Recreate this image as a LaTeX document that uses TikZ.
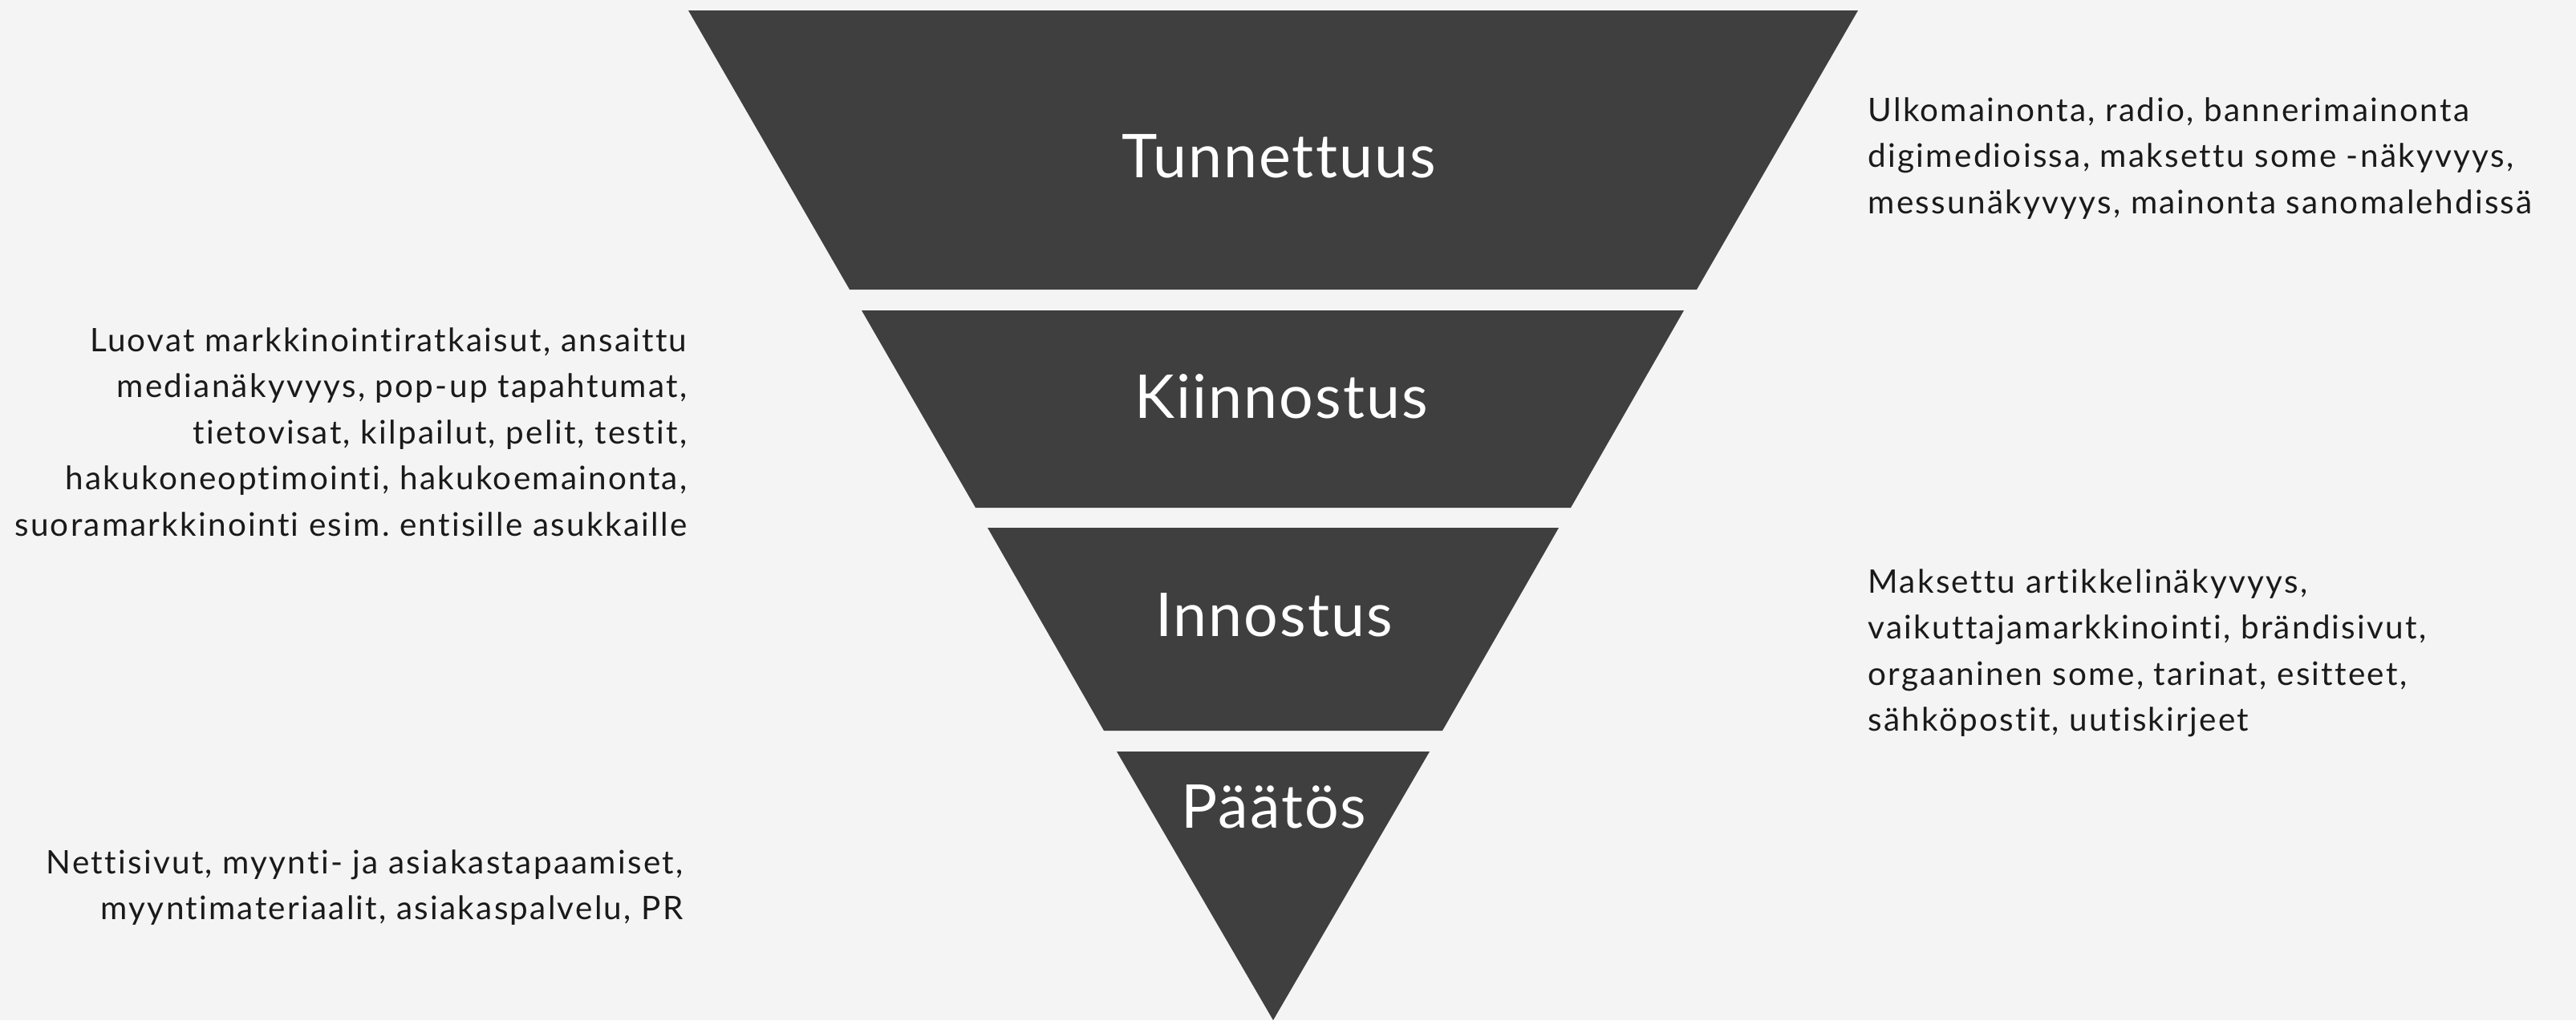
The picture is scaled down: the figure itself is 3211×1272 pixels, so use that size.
\documentclass[tikz,border=0pt]{standalone}
\usepackage{fontspec}
\setmainfont{Lato}
\newfontfamily\bodyfont[LetterSpace=5.6, Ligatures=NoCommon]{Lato}
\newfontfamily\titlefont[LetterSpace=2.8, Ligatures=NoCommon]{Lato}
\definecolor{bgc}{HTML}{F4F4F4}
\definecolor{funnel}{HTML}{3F3F3F}
\definecolor{txt}{HTML}{1A1A1A}
\tikzset{
  segment/.style={fill=funnel, draw=none},
  stagelabel/.style={anchor=base, text=white, inner sep=0pt, font=\titlefont\fontsize{21.4}{25}\selectfont},
  sidetext/.style={inner sep=0pt, text=txt, font=\bodyfont\fontsize{11.5}{16.36}\selectfont\frenchspacing}
}
\begin{document}
\begin{tikzpicture}[x=0.01cm, y=-0.01cm]
\fill[bgc] (0,0) rectangle (3211,1272);
\useasboundingbox (0,0) rectangle (3211,1272);
% funnel segments
\fill[segment] (858,13) -- (2316,13) -- (2115,361) -- (1059,361) -- cycle;
\fill[segment] (1074,387) -- (2099,387) -- (1958,633) -- (1216,633) -- cycle;
\fill[segment] (1231,658) -- (1943,658) -- (1798,911) -- (1376,911) -- cycle;
\fill[segment] (1392,937) -- (1782,937) -- (1587,1272) -- cycle;
% stage labels
\node[stagelabel] (tunn) at (1594,221) {Tunnettuus};
\node[stagelabel] (kiin) at (1597,521) {Kiinnostus};
\node[stagelabel] (inno) at (1588,793) {Innostus};
\node[stagelabel] (paat) at (1588,1032) {Päätös};
% side texts
\node[sidetext, anchor=base west] (t1) at (2328,151) {\begin{tabular}[t]{@{}l@{}}Ulkomainonta, radio, bannerimainonta\\digimedioissa, maksettu some -näkyvyys,\\messunäkyvyys, mainonta sanomalehdissä\end{tabular}};
\node[sidetext, anchor=base east] (t2) at (857,438) {\begin{tabular}[t]{@{}r@{}}Luovat markkinointiratkaisut, ansaittu\\medianäkyvyys, pop-up tapahtumat,\\tietovisat, kilpailut, pelit, testit,\\hakukoneoptimointi, hakukoemainonta,\\suoramarkkinointi esim. entisille asukkaille\end{tabular}};
\node[sidetext, anchor=base west] (t3) at (2328,739) {\begin{tabular}[t]{@{}l@{}}Maksettu artikkelinäkyvyys,\\vaikuttajamarkkinointi, brändisivut,\\orgaaninen some, tarinat, esitteet,\\sähköpostit, uutiskirjeet\end{tabular}};
\node[sidetext, anchor=base east] (t4) at (852,1089) {\begin{tabular}[t]{@{}r@{}}Nettisivut, myynti- ja asiakastapaamiset,\\myyntimateriaalit, asiakaspalvelu, PR\end{tabular}};
\end{tikzpicture}
\end{document}
